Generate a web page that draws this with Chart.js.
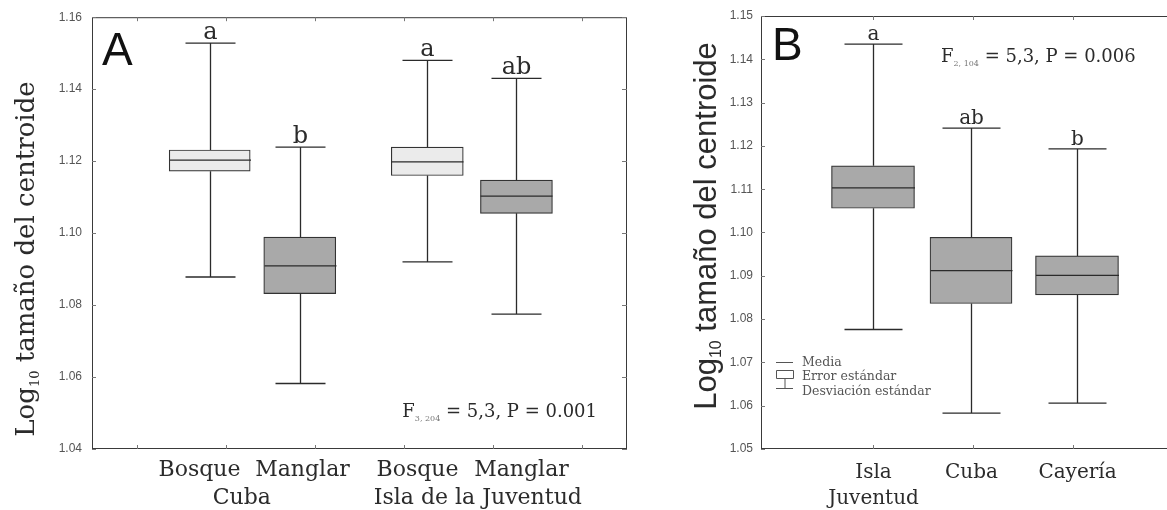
<!DOCTYPE html>
<html>
<head>
<meta charset="utf-8">
<script src="https://cdn.jsdelivr.net/npm/chart.js@4.4.1/dist/chart.umd.min.js"></script>
<style>
  html, body { margin: 0; padding: 0; background: #fff; overflow: hidden; width: 1167px; height: 510px; }
  #wrapA { position: absolute; left: 0; top: 0; }
  #wrapB { position: absolute; left: 690px; top: 0; }
</style>
</head>
<body>
<div id="wrapA"><canvas id="chartA" width="650" height="510"></canvas></div>
<div id="wrapB"><canvas id="chartB" width="520" height="510"></canvas></div>
<script>
// Panel A: hábitat dentro de cada región
const groupsA = ['Bosque', 'Manglar', 'Bosque', 'Manglar'];
const regionsA = ['Cuba', 'Isla de la Juventud'];
const xPosA = [1.32, 2.33, 3.76, 4.76];
const meanA = [1.1203, 1.0909, 1.1198, 1.1103];
const seLoA = [1.1172, 1.0832, 1.1160, 1.1055];
const seHiA = [1.1231, 1.0989, 1.1239, 1.1147];
const sdLoA = [1.0878, 1.0582, 1.0920, 1.0775];
const sdHiA = [1.1528, 1.1239, 1.1480, 1.1430];
const lettersA = ['a', 'b', 'a', 'ab'];
const xTicksA = [0.5, 1.5, 2.5, 3.5, 4.5, 5.5];

// Panel B: regiones
const groupsB = [['Isla', 'Juventud'], ['Cuba'], ['Cayería']];
const xPosB = [1, 1.98, 3.04];
const meanB = [1.1103, 1.0912, 1.0901];
const seLoB = [1.1056, 1.0836, 1.0856];
const seHiB = [1.1154, 1.0989, 1.0946];
const sdLoB = [1.0776, 1.0583, 1.0606];
const sdHiB = [1.1435, 1.1241, 1.1193];
const lettersB = ['a', 'ab', 'b'];
const xTicksB = [1, 2, 3];

const LIGHT = '#ebebeb';
const GREY = '#a9a9a9';
const INK = '#2b2b2b';
const SERIF = '"DejaVu Serif", serif';
const SANS = '"Liberation Sans", Arial, sans-serif';

// draws a run of text pieces (used for subscripts)
function richText(ctx, parts, x, y, align) {
  let w = 0;
  parts.forEach(p => { ctx.font = p.font; p.w = ctx.measureText(p.t).width; w += p.w; });
  let cx = align === 'center' ? x - w / 2 : align === 'right' ? x - w : x;
  ctx.textAlign = 'left';
  ctx.textBaseline = 'alphabetic';
  parts.forEach(p => {
    ctx.font = p.font;
    ctx.fillStyle = p.color || INK;
    ctx.fillText(p.t, cx, y + (p.dy || 0));
    cx += p.w;
  });
}

function panelPlugin(p) {
  return {
    id: 'panel',
    afterDatasetsDraw(chart) {
      const { ctx, chartArea: a, scales: { x, y } } = chart;
      ctx.save();

      // frame and inward ticks
      ctx.strokeStyle = '#3a3a3a';
      ctx.lineWidth = 1;
      ctx.strokeRect(a.left + 0.5, a.top + 0.5, a.right - a.left - 1, a.bottom - a.top - 1);
      ctx.strokeStyle = '#777';
      ctx.beginPath();
      y.ticks.forEach(t => {
        const py = Math.round(y.getPixelForValue(t.value)) + 0.5;
        ctx.moveTo(a.left, py); ctx.lineTo(a.left + 4, py);
        ctx.moveTo(a.right, py); ctx.lineTo(a.right - 5, py);
      });
      x.ticks.forEach(t => {
        const px = Math.round(x.getPixelForValue(t.value)) + 0.5;
        ctx.moveTo(px, a.bottom); ctx.lineTo(px, a.bottom - 4);
        ctx.moveTo(px, a.top); ctx.lineTo(px, a.top + 4);
      });
      ctx.stroke();

      // whiskers, caps and mean lines
      ctx.strokeStyle = INK;
      ctx.lineWidth = 1.3;
      p.pos.forEach((v, i) => {
        const px = Math.round(x.getPixelForValue(v)) + 0.5;
        const half = p.boxW[i] / 2;
        const yHi = y.getPixelForValue(p.sdHi[i]);
        const yLo = y.getPixelForValue(p.sdLo[i]);
        ctx.beginPath();
        ctx.moveTo(px, y.getPixelForValue(p.seHi[i])); ctx.lineTo(px, yHi);
        ctx.moveTo(px, y.getPixelForValue(p.seLo[i])); ctx.lineTo(px, yLo);
        ctx.moveTo(px - p.capW / 2, yHi); ctx.lineTo(px + p.capW / 2, yHi);
        ctx.moveTo(px - p.capW / 2, yLo); ctx.lineTo(px + p.capW / 2, yLo);
        const ym = y.getPixelForValue(p.mean[i]);
        ctx.moveTo(px - half, ym); ctx.lineTo(px + half, ym);
        ctx.stroke();

        // significance letters
        ctx.font = p.letterFont;
        ctx.fillStyle = INK;
        ctx.textAlign = 'center';
        ctx.textBaseline = 'alphabetic';
        ctx.fillText(p.letters[i], px, yHi - 4);

        // category labels under the axis
        ctx.font = p.catFont;
        p.groups[i].forEach((line, k) => {
          ctx.fillText(line, px + p.catShift[i], p.catY + k * p.lineGap);
        });
      });

      // second row of labels (regions)
      if (p.regions) {
        ctx.font = p.catFont;
        ctx.textAlign = 'center';
        p.regions.forEach((r, k) => {
          const mid = (x.getPixelForValue(p.pos[2 * k]) + x.getPixelForValue(p.pos[2 * k + 1])) / 2;
          ctx.fillText(r, mid + p.regionShift[k], p.catY + p.lineGap);
        });
      }

      // panel letter
      ctx.font = '46px ' + SANS;
      ctx.textAlign = 'left';
      ctx.fillStyle = '#111';
      ctx.fillText(p.tag, a.left + p.tagPos[0], a.top + p.tagPos[1]);

      // test statistic
      richText(ctx, [
        { t: 'F', font: '18px ' + SERIF },
        { t: p.df, font: '8px ' + SERIF, dy: 4, color: '#777' },
        { t: p.stat, font: '18px ' + SERIF }
      ], p.statPos[0](a), p.statPos[1](a), p.statAlign);

      // y axis title
      ctx.save();
      ctx.translate(p.titlePos[0], p.titlePos[1]);
      ctx.rotate(-Math.PI / 2);
      richText(ctx, [
        { t: 'Log', font: p.titleSize + 'px ' + p.titleFont },
        { t: '10', font: Math.round(p.titleSize * 0.5) + 'px ' + p.titleFont, dy: 5 },
        { t: ' tamaño del centroide', font: p.titleSize + 'px ' + p.titleFont }
      ], 0, 0, 'center');
      ctx.restore();

      if (p.legend) p.legend(ctx, a);
      ctx.restore();
    }
  };
}

function makeChart(id, p) {
  const canvas = document.getElementById(id);
  const W = canvas.width, H = canvas.height;
  return new Chart(canvas, {
    type: 'bar',
    data: {
      datasets: p.pos.map((v, i) => ({
        data: [{ x: v, y: [p.seLo[i], p.seHi[i]] }],
        backgroundColor: p.fills[i],
        borderColor: '#333',
        borderWidth: 1.2,
        borderSkipped: false,
        barThickness: p.boxW[i],
        grouped: false
      }))
    },
    options: {
      responsive: false,
      animation: false,
      layout: { padding: { left: 0, top: p.area.top, right: W - p.area.right, bottom: 0 } },
      plugins: { legend: { display: false }, tooltip: { enabled: false } },
      scales: {
        x: {
          type: 'linear', min: p.xMin, max: p.xMax, offset: false,
          grid: { display: false, drawTicks: false }, border: { display: false },
          ticks: { display: false },
          afterBuildTicks: s => { s.ticks = p.xTicks.map(v => ({ value: v })); },
          afterFit: s => { s.height = H - p.area.bottom; }
        },
        y: {
          min: p.yMin, max: p.yMax,
          grid: { display: false, drawTicks: false }, border: { display: false },
          ticks: {
            stepSize: p.yStep, padding: p.tickPad, color: '#555',
            font: { family: 'Liberation Sans', size: 12 },
            callback: v => v.toFixed(2)
          },
          afterFit: s => { s.width = p.area.left; }
        }
      }
    },
    plugins: [panelPlugin(p)]
  });
}

makeChart('chartA', {
  groups: groupsA.map(g => [g]), regions: regionsA, regionShift: [-13, 6],
  pos: xPosA, mean: meanA, seLo: seLoA, seHi: seHiA, sdLo: sdLoA, sdHi: sdHiA,
  letters: lettersA, xTicks: xTicksA,
  fills: [LIGHT, GREY, LIGHT, GREY], boxW: [81, 72, 72, 72], capW: 50,
  area: { left: 92, right: 627, top: 17, bottom: 449 },
  xMin: 0, xMax: 6, yMin: 1.04, yMax: 1.16, yStep: 0.02, tickPad: 10,
  letterFont: '24px ' + SERIF, catFont: '22px ' + SERIF, catY: 476, lineGap: 28,
  catShift: [-11, 2, -10, 5],
  tag: 'A', tagPos: [10, 48],
  df: '3, 204', stat: ' = 5,3, P = 0.001', statAlign: 'right',
  statPos: [a => a.right - 30, a => a.bottom - 32],
  titleFont: SERIF, titleSize: 26, titlePos: [34, 259]
});

makeChart('chartB', {
  groups: groupsB,
  pos: xPosB, mean: meanB, seLo: seLoB, seHi: seHiB, sdLo: sdLoB, sdHi: sdHiB,
  letters: lettersB, xTicks: xTicksB,
  fills: [GREY, GREY, GREY], boxW: [83, 82, 83], capW: 58,
  area: { left: 71, right: 500, top: 16, bottom: 449 },
  xMin: -0.12, xMax: 4.17, yMin: 1.05, yMax: 1.15, yStep: 0.01, tickPad: 8,
  letterFont: '20px ' + SERIF, catFont: '20px ' + SERIF, catY: 478, lineGap: 26,
  catShift: [0, 0, 0],
  tag: 'B', tagPos: [11, 44],
  df: '2, 104', stat: ' = 5,3, P = 0.006', statAlign: 'left',
  statPos: [a => a.left + 180, a => a.top + 46],
  titleFont: SANS, titleSize: 31, titlePos: [26, 226],
  legend: (ctx, a) => {
    const x0 = a.left + 15, x1 = a.left + 32;
    ctx.strokeStyle = '#555';
    ctx.lineWidth = 1;
    ctx.beginPath();
    ctx.moveTo(x0, 362.5); ctx.lineTo(x1, 362.5);
    ctx.rect(x0 + 0.5, 370.5, x1 - x0, 8);
    ctx.moveTo((x0 + x1) / 2 + 0.5, 379); ctx.lineTo((x0 + x1) / 2 + 0.5, 388);
    ctx.moveTo(x0, 388.5); ctx.lineTo(x1, 388.5);
    ctx.stroke();
    ctx.font = '12.5px ' + SERIF;
    ctx.fillStyle = '#555';
    ctx.textAlign = 'left';
    ctx.fillText('Media', x1 + 9, 366);
    ctx.fillText('Error estándar', x1 + 9, 380);
    ctx.fillText('Desviación estándar', x1 + 9, 395);
  }
});
</script>
</body>
</html>
